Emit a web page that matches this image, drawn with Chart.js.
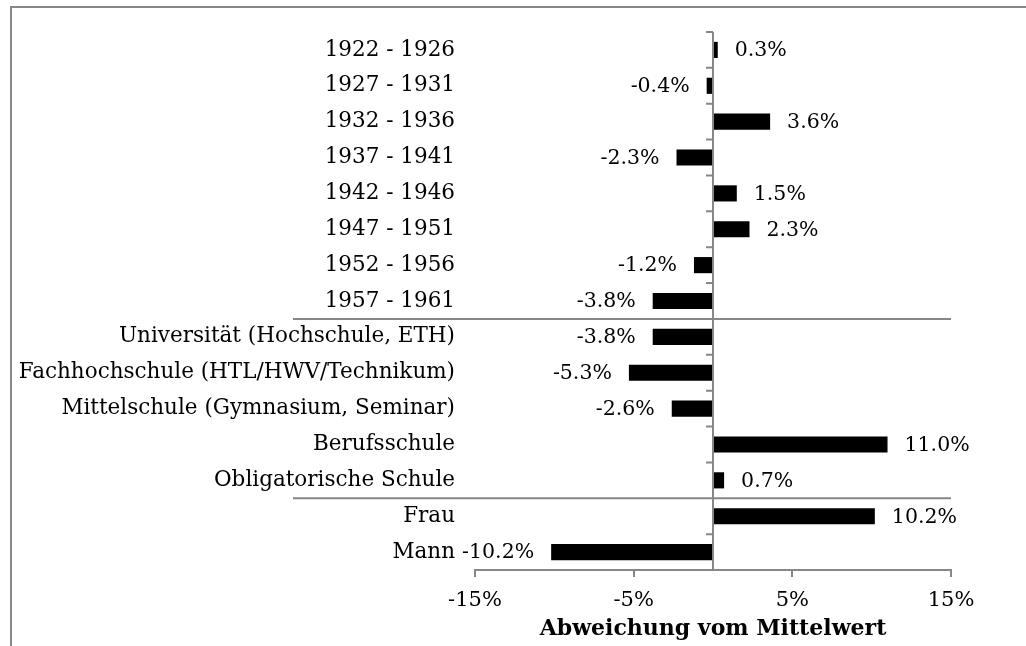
<!DOCTYPE html>
<html>
<head>
<meta charset="utf-8">
<script src="https://cdn.jsdelivr.net/npm/chart.js@4"></script>
<style>
  html, body { margin: 0; padding: 0; background: #fff; }
  canvas { display: block; }
</style>
</head>
<body>
<canvas id="chart" width="1026" height="646"></canvas>
<script>
// Kategorien (oben nach unten) und Abweichungen in %
const categories = [
  '1922 - 1926', '1927 - 1931', '1932 - 1936', '1937 - 1941',
  '1942 - 1946', '1947 - 1951', '1952 - 1956', '1957 - 1961',
  'Universität (Hochschule, ETH)',
  'Fachhochschule (HTL/HWV/Technikum)',
  'Mittelschule (Gymnasium, Seminar)',
  'Berufsschule', 'Obligatorische Schule',
  'Frau', 'Mann'
];
const values = [0.3, -0.4, 3.6, -2.3, 1.5, 2.3, -1.2, -3.8, -3.8, -5.3, -2.6, 11.0, 0.7, 10.2, -10.2];
const xTicks = [-15, -5, 5, 15];
const groupEnds = [7, 12]; // separator after these category indices
const axisTitle = 'Abweichung vom Mittelwert';

const GRAY = '#878787';
const FONT = "'DejaVu Serif', serif";

const framePlugin = {
  id: 'frame',
  beforeDraw(chart) {
    const ctx = chart.ctx;
    ctx.save();
    ctx.strokeStyle = GRAY;
    ctx.lineWidth = 2;
    ctx.beginPath();
    ctx.moveTo(11, chart.height);
    ctx.lineTo(11, 7);
    ctx.lineTo(chart.width, 7);
    ctx.stroke();
    ctx.restore();
  }
};

const zeroAxisPlugin = {
  id: 'zeroAxis',
  afterDatasetsDraw(chart) {
    const { ctx, chartArea } = chart;
    const x = chart.scales.x;
    const y = chart.scales.y;
    const x0 = x.getPixelForValue(0);
    ctx.save();
    ctx.strokeStyle = GRAY;
    ctx.lineWidth = 2;
    ctx.beginPath();
    ctx.moveTo(x0, chartArea.top);
    ctx.lineTo(x0, chartArea.bottom);
    // small ticks at category boundaries
    const step = (chartArea.bottom - chartArea.top) / categories.length;
    for (let i = 0; i <= categories.length; i++) {
      const yy = chartArea.top + i * step;
      ctx.moveTo(x0 - 7, yy);
      ctx.lineTo(x0, yy);
    }
    // group separators
    groupEnds.forEach(i => {
      const yy = (y.getPixelForValue(i) + y.getPixelForValue(i + 1)) / 2;
      ctx.moveTo(293, yy);
      ctx.lineTo(chartArea.right, yy);
    });
    ctx.stroke();
    ctx.restore();
  }
};

const valueLabelPlugin = {
  id: 'valueLabels',
  afterDatasetsDraw(chart) {
    const ctx = chart.ctx;
    const meta = chart.getDatasetMeta(0);
    ctx.save();
    ctx.font = '20.5px ' + FONT;
    ctx.fillStyle = '#000';
    ctx.textBaseline = 'middle';
    meta.data.forEach((bar, i) => {
      const v = values[i];
      const txt = v.toFixed(1) + '%';
      if (v >= 0) {
        ctx.textAlign = 'left';
        ctx.fillText(txt, bar.x + 17, bar.y + 1);
      } else {
        ctx.textAlign = 'right';
        ctx.fillText(txt, bar.x - 17, bar.y + 1);
      }
    });
    ctx.restore();
  }
};

new Chart(document.getElementById('chart'), {
  type: 'bar',
  data: {
    labels: categories,
    datasets: [{
      data: values,
      backgroundColor: '#000',
      borderWidth: 0,
      barPercentage: 0.45,
      categoryPercentage: 1
    }]
  },
  options: {
    indexAxis: 'y',
    responsive: false,
    animation: false,
    layout: { padding: { top: 32, right: 75, left: 0, bottom: 0 } },
    plugins: {
      legend: { display: false },
      tooltip: { enabled: false }
    },
    scales: {
      x: {
        min: -15,
        max: 15,
        afterBuildTicks: scale => { scale.ticks = xTicks.map(v => ({ value: v })); },
        afterFit: scale => { scale.height = 76; },
        grid: { drawOnChartArea: false, color: GRAY, lineWidth: 2, tickLength: 7 },
        border: { color: GRAY, width: 2 },
        ticks: {
          color: '#000',
          font: { family: FONT, size: 21 },
          padding: 11,
          callback: v => v + '%'
        },
        title: {
          display: true,
          text: axisTitle,
          color: '#000',
          font: { family: FONT, size: 22, weight: 'bold' },
          padding: { top: 0, bottom: 4 }
        }
      },
      y: {
        afterFit: scale => { scale.width = 475; },
        grid: { display: false },
        border: { display: false },
        ticks: {
          color: '#000',
          font: { family: FONT, size: 21.5 },
          padding: 12
        }
      }
    }
  },
  plugins: [framePlugin, zeroAxisPlugin, valueLabelPlugin]
});
</script>
</body>
</html>
